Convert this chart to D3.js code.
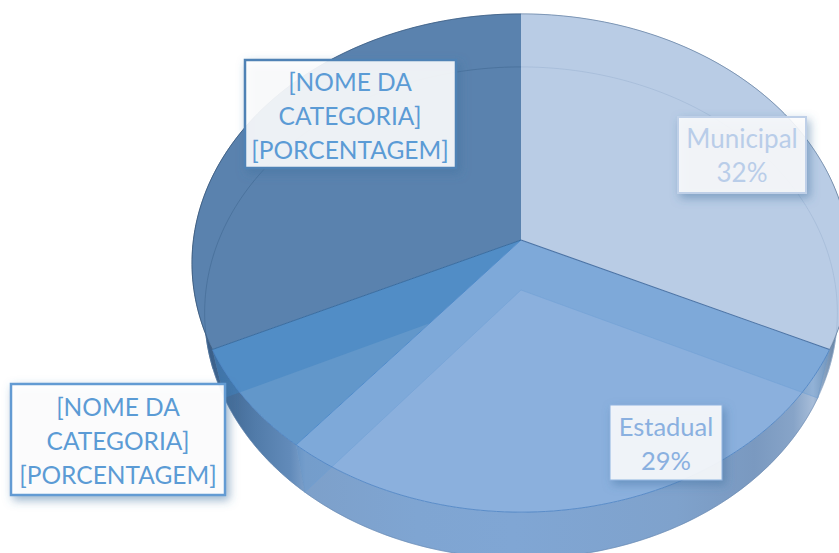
<!DOCTYPE html>
<html><head><meta charset="utf-8">
<script src="https://cdn.jsdelivr.net/npm/d3@7/dist/d3.min.js"></script>
<style>html,body{margin:0;padding:0;background:#fff}svg{display:block}</style>
</head><body><svg id="c" width="839" height="553"></svg>
<script>
const categories = ["Municipal","Estadual","Outra","Federal"];
const values = [32,29,7,32];
const topFaceColors = ["#b9cce5","#8bb0dd","#6297ca","#5a82ae"];
const labelLines = [["Municipal","32%"],["Estadual","29%"],
  ["[NOME DA","CATEGORIA]","[PORCENTAGEM]"],["[NOME DA","CATEGORIA]","[PORCENTAGEM]"]];
const labelStyle = [
 {x:678,y:117,w:128,h:76,cx:742,y0:148,fs:26,border:"#bfd0e8",fill:"rgba(255,255,255,.84)",text:"#b9cde9",sw:2},
 {x:610,y:405,w:112,h:75,cx:666,y0:436,fs:25.5,border:"#8fb4df",fill:"rgba(255,255,255,.86)",text:"#8ab0e0",sw:1},
 {x:11,y:384,w:214,h:111,cx:118,y0:416,fs:24.5,border:"#639bd3",fill:"rgba(255,255,255,.93)",text:"#5b9bd5",sw:2.5},
 {x:245,y:60,w:211,h:108,cx:350,y0:90.5,fs:24.5,border:"#4f82b5",fill:"rgba(255,255,255,.87)",text:"#5b9bd5",sw:2.5}
];
const W=839,H=553,k=0.0924;
const svg=d3.select("#c");
const defs=svg.append("defs");
const xTop=d3.scaleLinear([-1,1],[521-327.6,521+327.6]);
const yTop=d3.scaleLinear([-1,1],[240-247,240+247]);
const xBot=d3.scaleLinear([-1,1],[521-315,521+315]);
const yBot=d3.scaleLinear([-1,1],[290-243.7,290+243.7]);
const proj=(a,lv)=>{const w=1+k*Math.cos(a),u=Math.sin(a)/w,v=-Math.cos(a)/w;
  return lv?[xBot(u),yBot(v)]:[xTop(u),yTop(v)];};
const arcPts=(a0,a1,lv)=>d3.range(0,101).map(i=>proj(a0+(a1-a0)*i/100,lv));
const line=d3.line();
const closed=p=>line(p)+"Z";
const apexTop=[xTop(0),yTop(0)],apexBot=[xBot(0),yBot(0)];
const arcs=d3.pie().sort(null)(values);
const grad=(id,stops)=>{const g=defs.append("linearGradient").attr("id",id)
  .attr("gradientUnits","userSpaceOnUse").attr("x1",190).attr("x2",839).attr("y1",0).attr("y2",0);
  stops.forEach(s=>g.append("stop").attr("offset",s[0]).attr("stop-color",s[1]));return `url(#${id})`;};
const wallFill=grad("wall",[[0,"#2f4f74"],[.03,"#3a5f89"],[.1,"#517ba9"],[.155,"#628bba"],[.178,"#7da0ca"],[.35,"#7fa5d2"],[.5,"#80a6d4"],[.75,"#7fa2cc"],[.87,"#7a99c0"],[.93,"#87a4c8"],[.96,"#a7bdd9"],[1,"#5e7d9f"]]);
// outer walls
arcs.forEach(d=>{
  svg.append("path").attr("d",closed(arcPts(d.startAngle,d.endAngle,0).concat(arcPts(d.startAngle,d.endAngle,1).reverse())))
    .attr("fill",wallFill).attr("stroke",wallFill).attr("stroke-width",.5);
});
// silhouette edge
svg.append("path").attr("d",line(arcPts(arcs[1].startAngle,arcs[3].endAngle,1))).attr("fill","none")
  .attr("stroke","#5d7fa8").attr("stroke-width",.7).attr("opacity",.7);
// top faces of the back slices
const sector=d=>closed([apexTop].concat(arcPts(d.startAngle,d.endAngle,0)));
[3,2].forEach(i=>svg.append("path").attr("d",sector(arcs[i])).attr("fill",topFaceColors[i]));
// inner wall of large slice seen through the small slice
const wallQuad=a=>closed([apexTop,proj(a,0),proj(a,1),apexBot]);
svg.append("path").attr("d",wallQuad(arcs[3].startAngle)).attr("fill","#3f83c2").attr("opacity",.5);
// Estadual
svg.append("path").attr("d",sector(arcs[1])).attr("fill",topFaceColors[1]);
[arcs[1].startAngle,arcs[1].endAngle].forEach(a=>
  svg.append("path").attr("d",wallQuad(a)).attr("fill","#5f97d2").attr("opacity",.28));
// Municipal
svg.append("path").attr("d",sector(arcs[0])).attr("fill",topFaceColors[0]);
// see-through bottom rim
svg.append("path").attr("d",line(arcPts(arcs[3].startAngle+.12,Math.PI*2,1))).attr("fill","none")
  .attr("stroke","#3f6690").attr("stroke-width",.8).attr("opacity",.7);
svg.append("path").attr("d",line(arcPts(0,arcs[0].endAngle-.1,1))).attr("fill","none")
  .attr("stroke","#9db3d2").attr("stroke-width",.8).attr("opacity",.7);
// faint inner edges
[arcs[1].startAngle,arcs[1].endAngle].forEach(a=>
  svg.append("path").attr("d",line([apexBot,proj(a,1)])).attr("fill","none").attr("stroke","#6f9fd4").attr("stroke-width",.7).attr("opacity",.7));
// rim of top face, slice edges
svg.append("path").attr("d",line(arcPts(arcs[1].startAngle,arcs[2].endAngle,0))).attr("fill","none")
  .attr("stroke","#4b82c3").attr("stroke-width",1).attr("opacity",.8);
svg.append("path").attr("d",line(arcPts(arcs[3].startAngle,Math.PI*2,0))).attr("fill","none")
  .attr("stroke","#3b5a7c").attr("stroke-width",1).attr("opacity",.75);
svg.append("path").attr("d",line(arcPts(0,arcs[0].endAngle,0))).attr("fill","none")
  .attr("stroke","#55708f").attr("stroke-width",.9).attr("opacity",.6);
const edge=(a,c,sw)=>svg.append("path").attr("d",line([apexTop,proj(a,0)])).attr("stroke",c).attr("stroke-width",sw).attr("fill","none");
edge(arcs[1].startAngle,"#4a72a4",1.1);
edge(arcs[2].startAngle,"#4f8bca",1);
edge(arcs[3].startAngle,"#3a6c9f",1);
[arcs[1].startAngle,arcs[2].startAngle].forEach(a=>
  svg.append("path").attr("d",line([proj(a,0),proj(a,1)])).attr("stroke","#6b95c4").attr("stroke-width",.8).attr("opacity",.8));
// labels
const f=defs.append("filter").attr("id","sh").attr("x","-20%").attr("y","-20%").attr("width","140%").attr("height","150%");
f.append("feDropShadow").attr("dx",3).attr("dy",4).attr("stdDeviation",5).attr("flood-color","#3f6f9f").attr("flood-opacity",.55);
labelStyle.forEach((s,i)=>{
  const g=svg.append("g");
  g.append("rect").attr("x",s.x).attr("y",s.y).attr("width",s.w).attr("height",s.h)
    .attr("fill",s.fill).attr("stroke",s.border).attr("stroke-width",s.sw).attr("filter","url(#sh)");
  labelLines[i].forEach((t,j)=>g.append("text").attr("x",s.cx).attr("y",s.y0+j*34)
    .attr("text-anchor","middle").attr("font-family","Lato, 'Open Sans', sans-serif").attr("font-size",s.fs)
    .attr("fill",s.text).text(t));
});
</script></body></html>
